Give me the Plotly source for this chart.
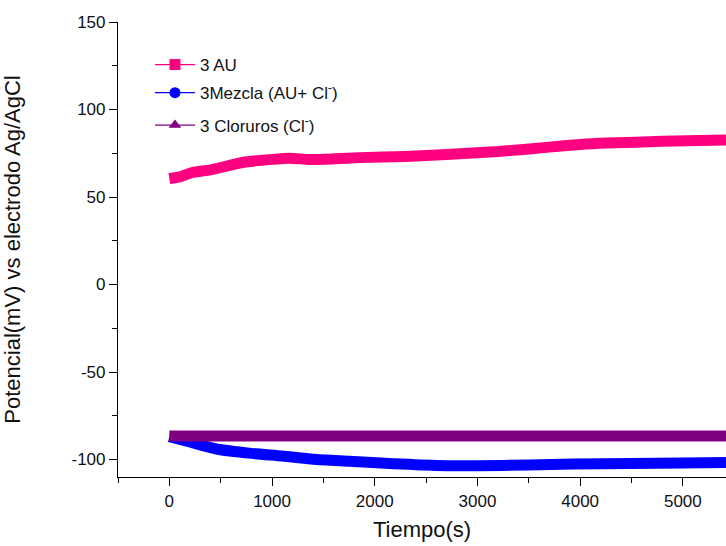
import plotly.graph_objects as go

# Data
t_au = [0, 100, 225, 400, 710, 1000, 1170, 1365, 1600, 1850, 2300, 2700, 3200, 3700, 4000, 4260, 4800, 5420]
v_au = [60.5, 61.5, 64, 65.5, 69.7, 71.5, 72.2, 71.4, 71.8, 72.5, 73.2, 74.3, 76, 78.5, 80, 80.8, 81.8, 82.6]

t_mez = [0, 200, 460, 800, 1100, 1400, 1750, 2100, 2600, 3000, 3500, 3930, 4500, 5000, 5420]
v_mez = [-87, -90, -94, -96.5, -98, -99.8, -101, -102.2, -103.4, -103.5, -103.2, -102.6, -102.3, -102, -101.7]

t_clo = [0, 5420]
v_clo = [-86.5, -86.5]

names = ["3 AU", "3Mezcla (AU+ Cl<sup>-</sup>)", "3 Cloruros (Cl<sup>-</sup>)"]
colors = ["#FF0080", "#0000FF", "#800080"]
symbols = ["square", "circle", "triangle-up"]
legends = ["legend", "legend", "legend2"]

x_tickvals = [0, 1000, 2000, 3000, 4000, 5000]
x_ticktext = ["0", "1000", "2000", "3000", "4000", "5000"]
y_tickvals = [-100, -50, 0, 50, 100, 150]
y_ticktext = ["-100", "-50", "0", "50", "100", "150"]

fig = go.Figure()
series = [(t_au, v_au), (t_mez, v_mez), (t_clo, v_clo)]
for i in [1, 2, 0]:
    tx, vy = series[i]
    fig.add_trace(go.Scatter(x=tx, y=vy, mode="lines",
                             line=dict(color=colors[i], width=11, shape="spline", smoothing=0.6),
                             showlegend=False, hoverinfo="skip"))
# legend entries
for i in range(3):
    fig.add_trace(go.Scatter(x=[None], y=[None], mode="lines+markers", name=names[i],
                             line=dict(color=colors[i], width=1.2),
                             marker=dict(symbol=symbols[i], size=11, color=colors[i]),
                             legend=legends[i], legendgroup=str(i)))

font = "Arial, Liberation Sans, sans-serif"
leg_common = dict(xanchor="left", yanchor="top", bgcolor="rgba(0,0,0,0)",
                  font=dict(size=17, family=font), itemwidth=40, tracegroupgap=3)
fig.update_layout(
    width=726, height=546,
    margin=dict(l=118, r=0, t=22, b=69),
    plot_bgcolor="white", paper_bgcolor="white",
    font=dict(family=font, color="#111111", size=17),
    showlegend=True,
    legend=dict(x=0.0526, y=0.945, **leg_common),
    legend2=dict(x=0.0526, y=0.812, **leg_common),
    xaxis=dict(range=[-500, 5420], tickvals=x_tickvals, ticktext=x_ticktext,
               ticks="outside", ticklen=8,
               showline=True, linecolor="black", linewidth=1.2, showgrid=False, zeroline=False,
               tickcolor="black",
               minor=dict(tickvals=[-500, 500, 1500, 2500, 3500, 4500], ticks="outside", ticklen=5, tickcolor="black"),
               title=dict(text="Tiempo(s)", font=dict(size=22), standoff=12),
               tickfont=dict(size=17)),
    yaxis=dict(range=[-110, 150], tickvals=y_tickvals, ticktext=y_ticktext,
               ticks="outside", ticklen=8,
               showline=True, linecolor="black", linewidth=1.2, showgrid=False, zeroline=False,
               tickcolor="black",
               minor=dict(tickvals=[-75, -25, 25, 75, 125], ticks="outside", ticklen=5, tickcolor="black"),
               title=dict(text="Potencial(mV) vs electrodo Ag/AgCl", font=dict(size=22), standoff=46),
               tickfont=dict(size=17)),
)

fig.write_html("out.html")
